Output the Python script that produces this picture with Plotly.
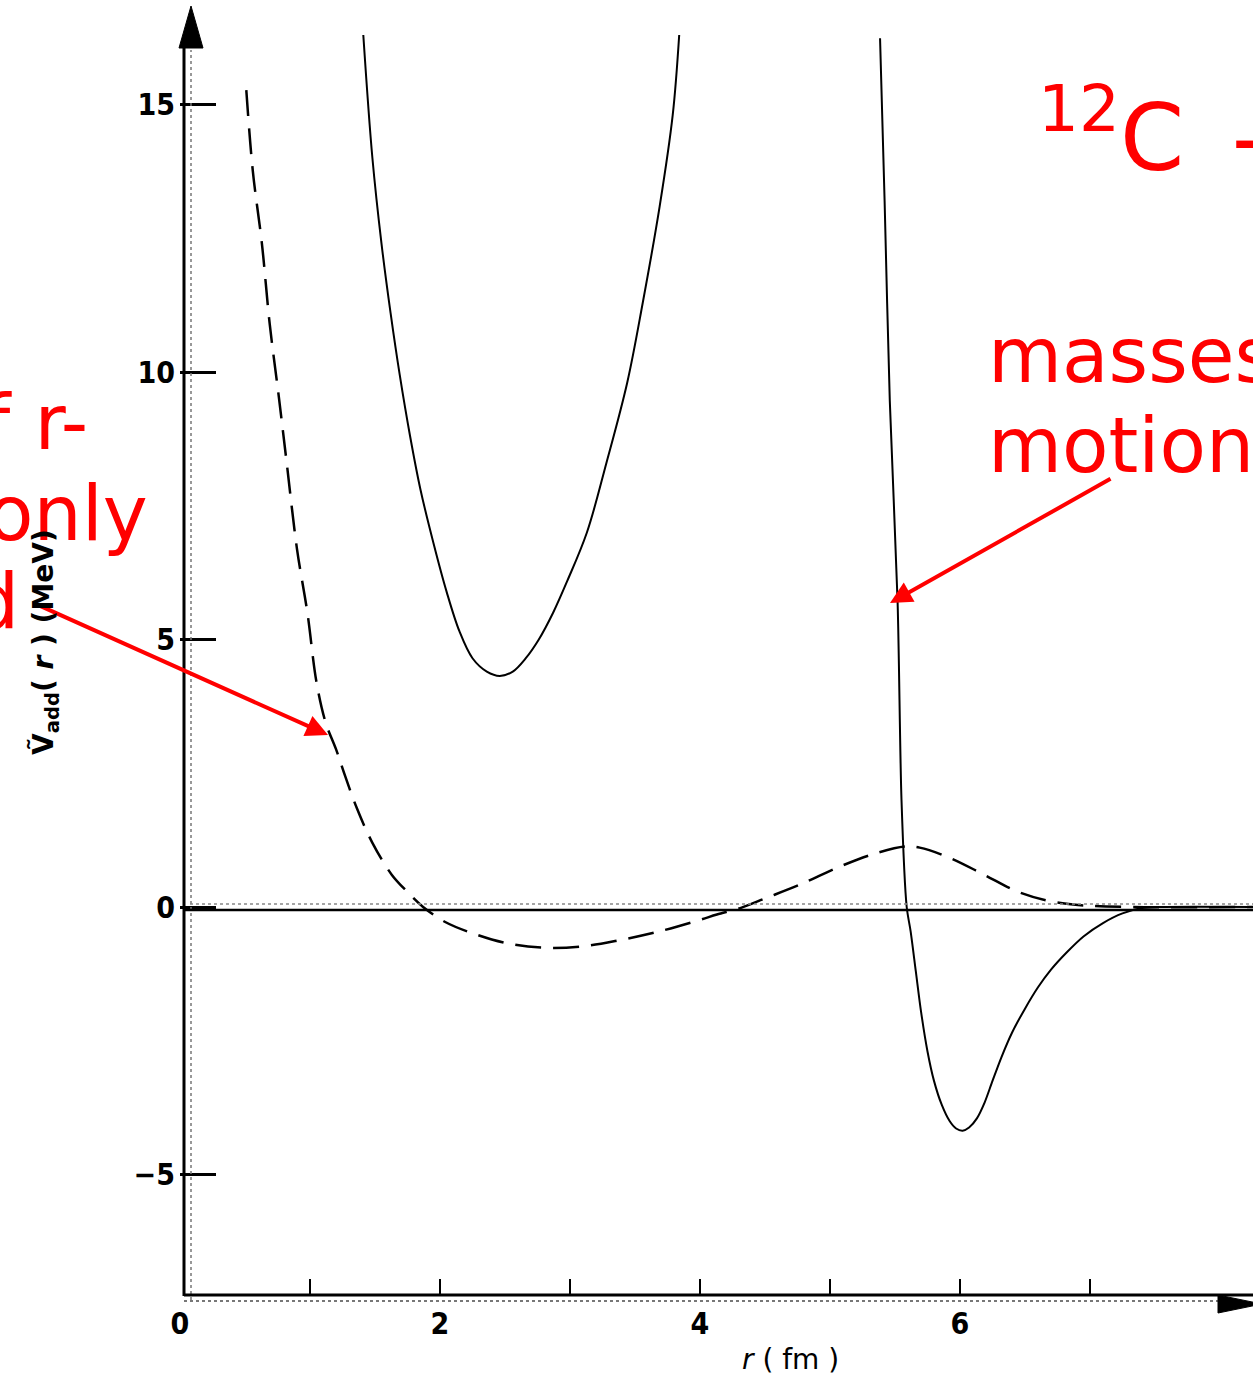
import plotly.graph_objects as go

# ---------------- data ----------------
# solid curve, left U-shaped branch
u_r = [1.41, 1.48, 1.55, 1.62, 1.69, 1.77, 1.85, 1.95, 2.05, 2.15, 2.25, 2.36,
       2.46, 2.56, 2.66, 2.76, 2.87, 2.98, 3.13, 3.28, 3.44, 3.56, 3.69, 3.79, 3.84]
u_v = [16.3, 14.0, 12.4, 11.1, 9.95, 8.8, 7.8, 6.8, 5.9, 5.15, 4.65, 4.4,
       4.32, 4.4, 4.65, 5.0, 5.5, 6.1, 7.0, 8.3, 9.8, 11.3, 13.1, 14.8, 16.3]

# solid curve, right branch (steep wall + well)
b_r = [5.385, 5.42, 5.46, 5.52, 5.55, 5.59, 5.62, 5.66, 5.70, 5.75, 5.80, 5.86,
       5.92, 5.97, 6.02, 6.07, 6.13, 6.19, 6.25, 6.32, 6.40, 6.50, 6.60, 6.70,
       6.82, 6.95, 7.10, 7.25, 7.40, 7.55, 8.3]
b_v = [16.24, 13.2, 9.46, 5.7, 2.0, 0.0, -0.45, -1.2, -1.95, -2.7, -3.25, -3.7,
       -4.0, -4.14, -4.18, -4.12, -3.95, -3.65, -3.25, -2.8, -2.35, -1.9, -1.5, -1.17,
       -0.85, -0.55, -0.3, -0.12, -0.02, 0.0, 0.0]

# dashed curve
d_r = [0.51, 0.56, 0.63, 0.69, 0.76, 0.82, 0.90, 0.98, 1.05, 1.12, 1.20, 1.27,
       1.36, 1.48, 1.63, 1.75, 1.87, 2.04, 2.25, 2.52, 2.79, 3.08, 3.38, 3.68,
       4.0, 4.13, 4.31, 4.51, 4.77, 5.08, 5.36, 5.58, 5.69, 5.92, 6.18, 6.44,
       6.69, 6.95, 7.33, 8.3]
d_v = [15.27, 13.76, 12.4, 10.9, 9.54, 8.32, 6.69, 5.5, 4.2, 3.45, 2.95, 2.45,
       1.85, 1.2, 0.6, 0.28, 0.0, -0.28, -0.49, -0.68, -0.76, -0.74, -0.62, -0.46,
       -0.24, -0.14, -0.02, 0.17, 0.42, 0.76, 1.01, 1.13, 1.11, 0.92, 0.61, 0.29,
       0.11, 0.03, 0.0, 0.0]

x_tickvals = [0, 1, 2, 3, 4, 5, 6, 7]
x_ticktext = ["0", "", "2", "", "4", "", "6", ""]
y_tickvals = [-5, 0, 5, 10, 15]
y_ticktext = ["\u22125", "0", "5", "10", "15"]

# ---------------- geometry ----------------
W, H = 1253, 1381
L, B = 180, 86
PX_R, PX_V, Y0 = 130.0, 53.5, 907.0
x_range = [0, (W - L) / PX_R]
y_range = [(Y0 - (H - B)) / PX_V, Y0 / PX_V]


def xp(px):
    return (px - L) / (W - L)


def yp(py):
    return (H - B - py) / (H - B)


fig = go.Figure()
fig.add_trace(go.Scatter(x=u_r, y=u_v, mode="lines",
                         line=dict(color="black", width=2, shape="spline", smoothing=1.0)))
fig.add_trace(go.Scatter(x=b_r, y=b_v, mode="lines",
                         line=dict(color="black", width=2, shape="spline", smoothing=0.8)))
fig.add_trace(go.Scatter(x=d_r, y=d_v, mode="lines",
                         line=dict(color="black", width=2.5, dash="26px,12px",
                                   shape="spline", smoothing=1.0)))

shapes = []
# scanned (grey, dotted) axes
shapes.append(dict(type="line", xref="paper", yref="paper", x0=xp(191), x1=xp(191),
                   y0=yp(1300), y1=yp(50), line=dict(color="#777", width=1.5, dash="dot")))
shapes.append(dict(type="line", xref="paper", yref="paper", x0=xp(184), x1=xp(1225),
                   y0=yp(1301), y1=yp(1301), line=dict(color="#777", width=2, dash="dot")))
shapes.append(dict(type="line", xref="paper", yref="paper", x0=xp(190), x1=xp(1253),
                   y0=yp(904), y1=yp(904), line=dict(color="#888", width=1.5, dash="dot")))
# black overlay axes
shapes.append(dict(type="line", xref="paper", yref="paper", x0=xp(184), x1=xp(184),
                   y0=yp(1296), y1=yp(45), line=dict(color="black", width=3)))
shapes.append(dict(type="line", xref="paper", yref="paper", x0=xp(184), x1=xp(1253),
                   y0=yp(1295), y1=yp(1295), line=dict(color="black", width=3)))
shapes.append(dict(type="line", xref="paper", yref="paper", x0=xp(184), x1=xp(1253),
                   y0=yp(910), y1=yp(910), line=dict(color="black", width=2.5)))
# arrow heads of the axes
shapes.append(dict(type="path", xref="paper", yref="paper",
                   path=f"M {xp(179)},{yp(48)} L {xp(191)},{yp(6)} L {xp(203)},{yp(48)} Z",
                   fillcolor="black", line=dict(color="black", width=1)))
shapes.append(dict(type="path", xref="paper", yref="paper",
                   path=f"M {xp(1218)},{yp(1295)} L {xp(1262)},{yp(1304)} L {xp(1218)},{yp(1313)} Z",
                   fillcolor="black", line=dict(color="black", width=1)))

red = "#ff0000"
rfont = "DejaVu Sans"
annotations = [
    dict(text="<sup>12</sup>C\u2009 -", xref="paper", yref="paper", x=xp(1036), y=yp(131),
         xanchor="left", yanchor="middle", showarrow=False,
         font=dict(family=rfont, size=92, color=red)),
    dict(text="masses", xref="paper", yref="paper", x=xp(986), y=yp(355),
         xanchor="left", yanchor="middle", showarrow=False,
         font=dict(family=rfont, size=76, color=red)),
    dict(text="motion", xref="paper", yref="paper", x=xp(986), y=yp(446),
         xanchor="left", yanchor="middle", showarrow=False,
         font=dict(family=rfont, size=76, color=red)),
    dict(text="of r-", xref="paper", yref="paper", x=xp(90), y=yp(423),
         xanchor="right", yanchor="middle", showarrow=False,
         font=dict(family=rfont, size=76, color=red)),
    dict(text="only", xref="paper", yref="paper", x=xp(150), y=yp(513),
         xanchor="right", yanchor="middle", showarrow=False,
         font=dict(family=rfont, size=76, color=red)),
    dict(text="d", xref="paper", yref="paper", x=xp(21), y=yp(601),
         xanchor="right", yanchor="middle", showarrow=False,
         font=dict(family=rfont, size=76, color=red)),
    # red arrows
    dict(text="", xref="paper", yref="paper", x=xp(890), y=yp(603), ax=222, ay=-125,
         showarrow=True, arrowhead=2, arrowsize=1.1, arrowwidth=4, arrowcolor=red),
    dict(text="", xref="paper", yref="paper", x=xp(328), y=yp(735), ax=-290, ay=-130,
         showarrow=True, arrowhead=2, arrowsize=1.1, arrowwidth=4, arrowcolor=red),
    # axis titles
    dict(text="\u1e7c<sub>add</sub>( <i>r</i> ) (MeV)", xref="paper", yref="paper",
         x=xp(45), y=yp(642), xanchor="center", yanchor="middle", textangle=-90,
         showarrow=False,
         font=dict(family="DejaVu Sans", size=28, color="black", weight="bold")),
    dict(text="<i>r</i> ( fm )", xref="paper", yref="paper", x=xp(790), y=yp(1360),
         xanchor="center", yanchor="middle", showarrow=False,
         font=dict(family="DejaVu Sans", size=28, color="black")),
]

tickfont = dict(family="DejaVu Sans Condensed, Liberation Sans Narrow, DejaVu Sans",
                size=30, color="black", weight="bold")

fig.update_layout(
    width=W, height=H,
    margin=dict(l=L, r=0, t=0, b=B, pad=0),
    paper_bgcolor="white", plot_bgcolor="white",
    showlegend=False,
    shapes=shapes,
    annotations=annotations,
    xaxis=dict(range=x_range, showgrid=False, zeroline=False, showline=False,
               ticks="inside", ticklen=16, tickwidth=2, tickcolor="black",
               tickvals=x_tickvals, ticktext=x_ticktext, tickfont=tickfont,
               ticklabelstandoff=8),
    yaxis=dict(range=y_range, showgrid=False, zeroline=False, showline=False,
               ticks="inside", ticklen=36, tickwidth=2.5, tickcolor="black",
               tickvals=y_tickvals, ticktext=y_ticktext, tickfont=tickfont,
               ticklabelstandoff=4),
)

fig.write_html("out.html")
